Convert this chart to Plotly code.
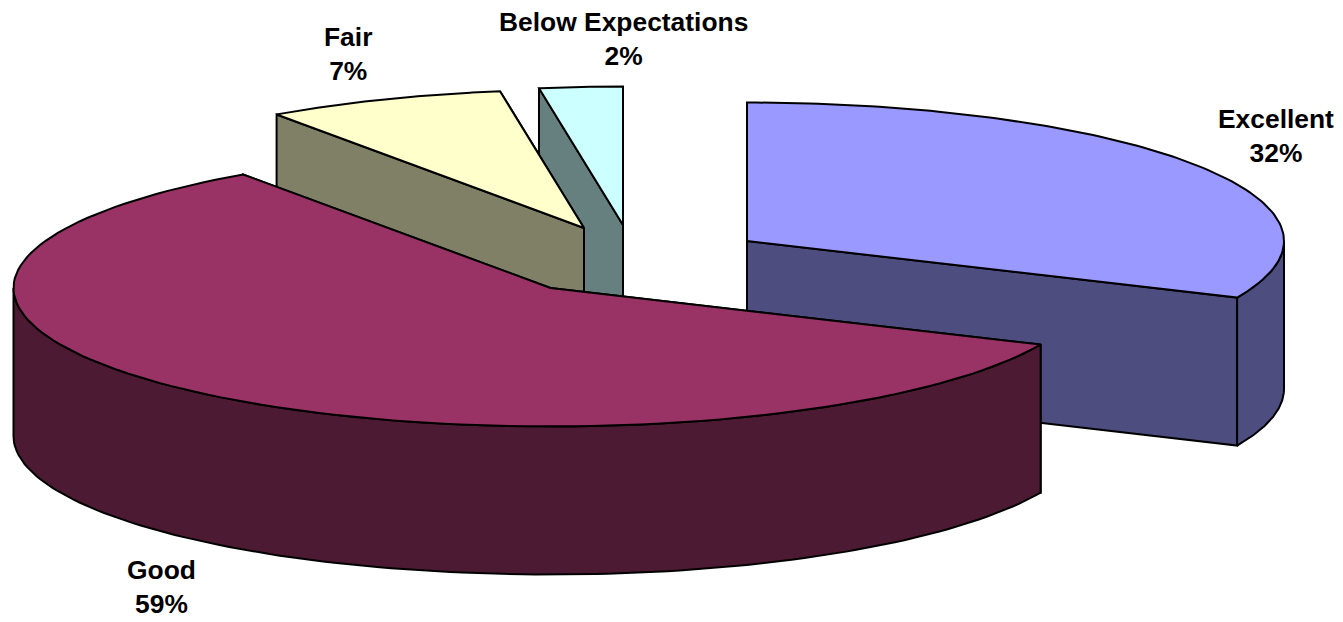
import math
import plotly.graph_objects as go

categories = ["Excellent", "Good", "Fair", "Below Expectations"]
values = [31.7, 58.6, 7.2, 2.5]
top_colors = ["#9999FF", "#993366", "#FFFFCC", "#CCFFFF"]
side_colors = ["#4D4D80", "#4D1A33", "#808066", "#668080"]
centres = [(747, 241), (550.5, 288), (584, 228), (623, 225)]
label_pos = [(1276, 136), (161, 587), (348, 54), (623, 39)]
draw_order = [3, 2, 0, 1]

RX, RY, DEPTH = 537, 138.5, 148
LINE = dict(color="black", width=2)
FONT = dict(family="Liberation Sans, Arial, sans-serif", size=26.4, color="black")


def rim_point(c, a, drop=0):
    return (c[0] + RX * math.sin(a), c[1] - RY * math.cos(a) + drop)


def arc(c, a0, a1, drop=0, n=120):
    return [rim_point(c, a0 + (a1 - a0) * i / n, drop) for i in range(n + 1)]


total = sum(values)
bounds = [0]
for v in values:
    bounds.append(bounds[-1] + v / total * 2 * math.pi)

fig = go.Figure()


def add_poly(pts, fill):
    xs = [p[0] for p in pts] + [pts[0][0]]
    ys = [p[1] for p in pts] + [pts[0][1]]
    fig.add_trace(go.Scatter(x=xs, y=ys, mode="lines", fill="toself", fillcolor=fill,
                             line=LINE, hoverinfo="skip", showlegend=False))


for i in draw_order:
    c, a0, a1 = centres[i], bounds[i], bounds[i + 1]
    below = (c[0], c[1] + DEPTH)
    # cut faces, the one further back first
    for a in sorted((a0, a1), key=lambda t: -math.cos(t)):
        add_poly([c, rim_point(c, a), rim_point(c, a, DEPTH), below], side_colors[i])
    # visible outer rim: the front half of the ellipse
    r0, r1 = max(a0, math.pi / 2), min(a1, 3 * math.pi / 2)
    if r1 > r0:
        add_poly(arc(c, r0, r1) + arc(c, r0, r1, DEPTH)[::-1], side_colors[i])
    # top face
    add_poly([c] + arc(c, a0, a1), top_colors[i])

for name, v, (x, y) in zip(categories, values, label_pos):
    fig.add_annotation(x=x, y=y, text=f"<b>{name}<br>{round(v)}%</b>", showarrow=False,
                       font=FONT, align="center", xanchor="center", yanchor="middle")

fig.update_layout(
    width=1343, height=622, margin=dict(l=0, r=0, t=0, b=0),
    paper_bgcolor="white", plot_bgcolor="white", showlegend=False,
    xaxis=dict(range=[0, 1343], visible=False, fixedrange=True),
    yaxis=dict(range=[622, 0], visible=False, fixedrange=True),
)
fig.write_html("out.html", config=dict(displayModeBar=False),
               post_script="document.body.style.margin='0';document.body.style.overflow='hidden';")
